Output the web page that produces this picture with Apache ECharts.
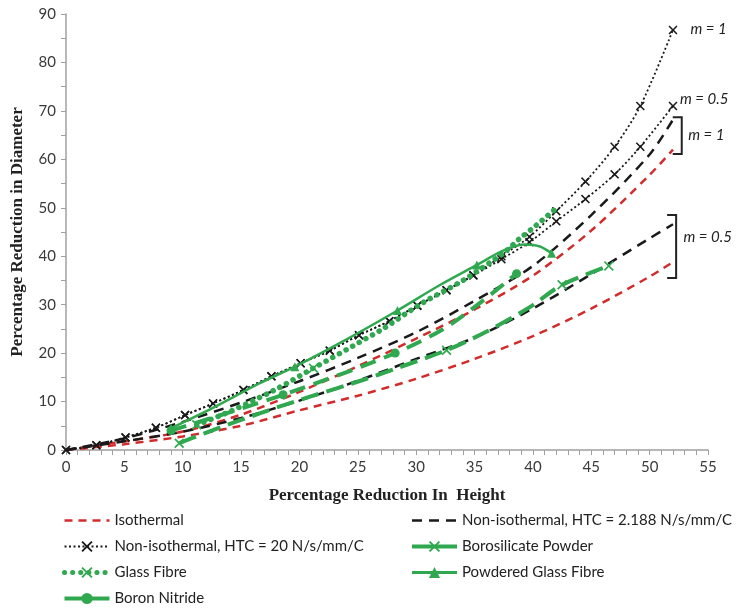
<!DOCTYPE html>
<html>
<head>
<meta charset="utf-8">
<script src="https://cdn.jsdelivr.net/npm/echarts@6/dist/echarts.min.js"></script>
<style>
  html, body { margin: 0; padding: 0; background: #fff; }
  #chart { width: 736px; height: 610px; }
</style>
</head>
<body>
<div id="chart"></div>
<script>
// Percentage reduction in height (x) against percentage reduction in diameter (y)

// Simulated curves, sampled on a common height-reduction grid
const fitX      = [0, 5, 10, 15, 20, 25, 30, 35, 40, 45, 50, 52];
const isoM1     = [0, 1.8, 3.8, 7.3, 12.0, 17.3, 23.0, 29.0, 36.0, 45.3, 56.8, 62.0];
const isoM05    = [0, 1.2, 2.8, 5.0, 8.2, 11.2, 14.7, 18.8, 23.5, 29.2, 35.8, 38.8];
const htcLowM1  = [0, 2.4, 5.8, 9.8, 14.2, 19.0, 24.3, 30.8, 38.0, 48.5, 61.0, 68.2];
const htcLowM05 = [0, 1.8, 3.8, 6.6, 10.2, 14.3, 18.8, 23.2, 29.2, 36.3, 43.7, 46.6];

// Non-isothermal, HTC = 20 (marked at every simulation step)
const htcX       = [0, 2.6, 5.1, 7.7, 10.2, 12.6, 15.2, 17.6, 20.1, 22.6, 25.1, 27.7, 30.1, 32.6, 34.9, 37.3, 39.7, 42.0, 44.5, 47.0, 49.2, 52.0];
const htcHighM1  = [0, 1.0, 2.6, 4.6, 7.2, 9.6, 12.4, 15.2, 17.9, 20.5, 23.7, 26.6, 29.8, 33.0, 36.1, 40.0, 44.0, 49.3, 55.4, 62.6, 71.0, 86.7];
const htcHighM05 = [0, 1.0, 2.6, 4.6, 7.2, 9.6, 12.4, 15.2, 17.9, 20.5, 23.7, 26.6, 29.8, 33.0, 36.0, 39.4, 42.9, 47.2, 51.8, 56.9, 62.6, 71.0];

// Experiments with different lubricants
const bsX = [9.7, 11.8, 15.0, 18.2, 20.9, 25.5, 28.0, 32.6, 36.0, 39.8, 42.5, 46.5];
const bsY = [1.4, 3.4, 6.2, 8.9, 11.0, 14.5, 16.6, 20.6, 24.4, 29.6, 34.1, 38.0];
const bsMarked = [0, 7, 10, 11];

const gfX = [11.2, 14.0, 17.8, 21.2, 24.6, 27.2, 30.5, 34.0, 37.5, 38.8, 40.3, 41.8];
const gfY = [5.2, 7.9, 12.3, 16.9, 21.5, 25.1, 30.3, 35.0, 40.7, 43.5, 46.4, 49.5];
const gfMarked = [0, 3];

const pgX = [9.0, 12.5, 16.6, 19.6, 24.0, 28.4, 32.0, 35.2, 37.5, 39.3, 40.6, 41.6];
const pgY = [4.5, 8.6, 13.8, 17.2, 22.8, 28.8, 34.0, 38.2, 41.2, 42.4, 42.0, 40.6];
const pgMarked = [0, 3, 5, 7, 11];

const bnX = [9.0, 18.6, 28.2, 33.0, 38.6];
const bnY = [4.0, 11.4, 20.0, 26.0, 36.4];
const bnMarked = [0, 1, 2, 4];

// Annotations: [text, x, y] in data units
const curveNotes = [
  ['m = 1', 53.5, 86.9],
  ['m = 0.5', 52.6, 72.5],
  ['m = 1', 53.3, 65.0],
  ['m = 0.5', 52.9, 44.0]
];
// Brackets grouping the end points: [x, yTop, yBottom]
const brackets = [
  [52.75, 68.7, 61.1],
  [52.27, 48.5, 35.5]
];

const NAMES = {
  iso: 'Isothermal',
  low: 'Non-isothermal, HTC = 2.188 N/s/mm/C',
  high: 'Non-isothermal, HTC = 20 N/s/mm/C',
  bs: 'Borosilicate Powder',
  gf: 'Glass Fibre',
  pg: 'Powdered Glass Fibre',
  bn: 'Boron Nitride'
};

const RED = '#d22b2b';
const BLACK = '#1a1a1a';
const GREEN = '#2fa84f';
const CROSS = 'path://M0,1.2 L1.2,0 L5,3.8 L8.8,0 L10,1.2 L6.2,5 L10,8.8 L8.8,10 L5,6.2 L1.2,10 L0,8.8 L3.8,5 Z';
const FONT = 'Lato, "Open Sans", sans-serif';

const zip = (xs, ys) => xs.map((x, i) => [x, ys[i]]);
const markedOnly = (xs, ys, marked) =>
  xs.map((x, i) => marked.includes(i) ? [x, ys[i]] : { value: [x, ys[i]], symbol: 'none' });

// Plain dashed curves: the symbol is hidden (transparent) so the legend shows only the dashes
function dashed(name, xs, ys, color, type, width) {
  return {
    name, type: 'line', data: zip(xs, ys), smooth: 0.3,
    symbol: 'circle', showSymbol: false,
    lineStyle: { color, type, width }, itemStyle: { color: 'rgba(0,0,0,0)' }, z: 2
  };
}

const series = [
  dashed(NAMES.iso, fitX, isoM1, RED, [8, 6], 2.5),
  dashed(NAMES.iso, fitX, isoM05, RED, [8, 6], 2.5),
  dashed(NAMES.low, fitX, htcLowM1, BLACK, [10, 7], 2.5),
  dashed(NAMES.low, fitX, htcLowM05, BLACK, [10, 7], 2.5),
  {
    name: NAMES.high, type: 'line', data: zip(htcX, htcHighM1), smooth: 0.3,
    symbol: CROSS, symbolSize: 9,
    lineStyle: { color: BLACK, type: [2, 2.5], width: 1.8 }, itemStyle: { color: BLACK }, z: 3
  },
  {
    name: NAMES.high, type: 'line', data: zip(htcX, htcHighM05), smooth: 0.3,
    symbol: CROSS, symbolSize: 9,
    lineStyle: { color: BLACK, type: [2, 2.5], width: 1.8 }, itemStyle: { color: BLACK }, z: 3
  },
  {
    name: NAMES.bs, type: 'line', data: markedOnly(bsX, bsY, bsMarked), smooth: 0.3,
    symbol: CROSS, symbolSize: 10,
    lineStyle: { color: GREEN, type: [18, 8], width: 4 }, itemStyle: { color: GREEN }, z: 4
  },
  {
    name: NAMES.gf, type: 'line', data: markedOnly(gfX, gfY, gfMarked), smooth: 0.3,
    symbol: CROSS, symbolSize: 10,
    lineStyle: { color: GREEN, type: [0.1, 7.5], cap: 'round', width: 5.5 }, itemStyle: { color: GREEN }, z: 4
  },
  {
    name: NAMES.pg, type: 'line', data: markedOnly(pgX, pgY, pgMarked), smooth: 0.3,
    symbol: 'triangle', symbolSize: 9,
    lineStyle: { color: GREEN, width: 2.5 }, itemStyle: { color: GREEN }, z: 5
  },
  {
    name: NAMES.bn, type: 'line', data: markedOnly(bnX, bnY, bnMarked), smooth: 0.3,
    symbol: 'circle', symbolSize: 9,
    lineStyle: { color: GREEN, type: [16, 9], width: 4 }, itemStyle: { color: GREEN }, z: 4
  }
];

const legendCommon = {
  orient: 'vertical', itemWidth: 45, itemHeight: 14, itemGap: 11,
  selectedMode: false, padding: 0,
  textStyle: { fontFamily: FONT, fontSize: 15, color: '#222' }
};

// Legend swatches with the line weights used on the plot
const legendLeft = [
  { name: NAMES.iso, lineStyle: { width: 2.5, type: [8, 6] } },
  { name: NAMES.high, lineStyle: { width: 1.8, type: [2, 2.5] } },
  { name: NAMES.gf, lineStyle: { width: 5, type: [0.1, 8], cap: 'round' } },
  { name: NAMES.bn, lineStyle: { width: 4, type: 'solid' } }
];
const legendRight = [
  { name: NAMES.low, lineStyle: { width: 2.5, type: [10, 7] } },
  { name: NAMES.bs, lineStyle: { width: 4, type: 'solid' } },
  { name: NAMES.pg, lineStyle: { width: 3, type: 'solid' } }
];

const axisCommon = {
  type: 'value',
  axisLine: { show: true, lineStyle: { color: '#a0a0a0', width: 1.5 } },
  axisTick: { show: true, length: 5, lineStyle: { color: '#a0a0a0' } },
  minorTick: { show: true, length: 5, lineStyle: { color: '#a0a0a0' } },
  splitLine: { show: false },
  axisLabel: { fontFamily: FONT, fontSize: 15, color: '#3a3a3a' },
  nameLocation: 'middle',
  nameTextStyle: { fontFamily: '"Liberation Serif", serif', fontWeight: 'bold', fontSize: 17, color: '#222' }
};

const chart = echarts.init(document.getElementById('chart'), null, { renderer: 'canvas' });
chart.setOption({
  animation: false,
  backgroundColor: '#fff',
  grid: { left: 66, right: 28, top: 14, bottom: 160, containLabel: false },
  xAxis: Object.assign({}, axisCommon, {
    min: 0, max: 55, interval: 5,
    minorTick: Object.assign({}, axisCommon.minorTick, { splitNumber: 5 }),
    axisLabel: Object.assign({}, axisCommon.axisLabel, { margin: 10 }),
    name: 'Percentage Reduction In  Height', nameGap: 37
  }),
  yAxis: Object.assign({}, axisCommon, {
    min: 0, max: 90, interval: 10,
    minorTick: Object.assign({}, axisCommon.minorTick, { splitNumber: 2 }),
    axisLabel: Object.assign({}, axisCommon.axisLabel, { margin: 10 }),
    name: 'Percentage Reduction in Diameter', nameGap: 40
  }),
  legend: [
    Object.assign({}, legendCommon, { left: 62, top: 513, data: legendLeft }),
    Object.assign({}, legendCommon, { left: 410, top: 513, data: legendRight })
  ],
  series
});

// Place the m-labels and brackets next to the curve ends
const toPx = (x, y) => chart.convertToPixel({ gridIndex: 0 }, [x, y]);
const graphics = [];
curveNotes.forEach(([text, x, y]) => {
  const [px, py] = toPx(x, y);
  graphics.push({
    type: 'text', x: px, y: py,
    style: { text, fill: '#222', font: 'italic 15px ' + FONT, textVerticalAlign: 'middle', verticalAlign: 'middle' }
  });
});
brackets.forEach(([x, yTop, yBot]) => {
  const [px, pTop] = toPx(x, yTop);
  const pBot = toPx(x, yBot)[1];
  graphics.push({
    type: 'polyline',
    shape: { points: [[px - 9, pTop], [px, pTop], [px, pBot], [px - 9, pBot]] },
    style: { stroke: '#222', lineWidth: 2, fill: null }
  });
});
chart.setOption({ graphic: graphics });
</script>
</body>
</html>
